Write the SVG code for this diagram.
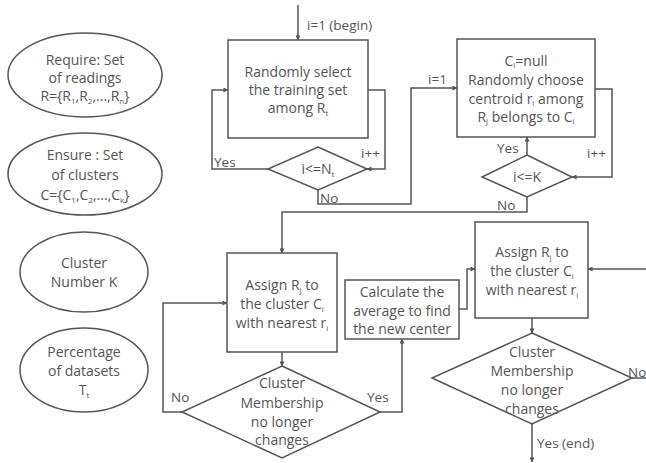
<svg xmlns="http://www.w3.org/2000/svg" width="646" height="463" viewBox="0 0 646 463">
<style>
.s{fill:none;stroke:#555;stroke-width:1.5}
.n{fill:#fff;stroke:#555;stroke-width:1.5}
.c{fill:none;stroke:#555;stroke-width:1.5}
text{font-family:"Open Sans","Noto Sans","DejaVu Sans",sans-serif;fill:#555}
.t{font-size:14px;text-anchor:middle}
.l{font-size:13.5px}
.sb{font-size:8px}
</style>
<defs>
<marker id="a" viewBox="0 0 6 6" refX="5.5" refY="3" markerWidth="5" markerHeight="5" orient="auto" markerUnits="userSpaceOnUse"><path d="M0,0 L6,3 L0,6 z" fill="#555"/></marker>
</defs>
<rect width="646" height="463" fill="#fff"/>

<g id="connectors">
<path class="c" d="M298,5 V40" marker-end="url(#a)"/>
<path class="c" d="M368,90 H385 V169 H367" marker-end="url(#a)"/>
<path class="c" d="M268,169 H212 V90 H228" marker-end="url(#a)"/>
<path class="c" d="M318,190 V204 H411 V88 H457" marker-end="url(#a)"/>
<path class="c" d="M595,89 H612 V177 H572" marker-end="url(#a)"/>
<path class="c" d="M527,155 V137" marker-end="url(#a)"/>
<path class="c" d="M527,197 V212 H282 V253" marker-end="url(#a)"/>
<path class="c" d="M282,352 V366" marker-end="url(#a)"/>
<path class="c" d="M182,412 H163 V303 H227" marker-end="url(#a)"/>
<path class="c" d="M380,412 H402 V339" marker-end="url(#a)"/>
<path class="c" d="M459,309 H467 V269 H475" marker-end="url(#a)"/>
<path class="c" d="M532,318 V333" marker-end="url(#a)"/>
<path class="c" d="M632,378 H652 V269 H588" marker-end="url(#a)"/>
<path class="c" d="M532,424 V462" marker-end="url(#a)"/>
<text class="l" x="307" y="30">i=1 (begin)</text>
<text class="l" x="214" y="167">Yes</text>
<text class="l" x="361" y="158">i++</text>
<text class="l" x="320" y="203">No</text>
<text class="l" x="428" y="84">i=1</text>
<text class="l" x="497" y="153">Yes</text>
<text class="l" x="587" y="158">i++</text>
<text class="l" x="497" y="210">No</text>
<text class="l" x="171" y="402">No</text>
<text class="l" x="367" y="402">Yes</text>
<text class="l" x="628" y="377">No</text>
<text class="l" x="537" y="448">Yes (end)</text>
</g>

<g id="require">
<ellipse class="n" cx="85" cy="75" rx="77" ry="42"/>
<text class="t" x="85" y="65">Require: Set</text>
<text class="t" x="85" y="83">of readings</text>
<text class="t" x="85" y="101">R={R<tspan class="sb" dy="3">1</tspan><tspan dy="-3">,R</tspan><tspan class="sb" dy="3">2</tspan><tspan dy="-3">,...,R</tspan><tspan class="sb" dy="3">n</tspan><tspan dy="-3">}</tspan></text>
</g>
<g id="ensure">
<ellipse class="n" cx="85" cy="174" rx="77" ry="41"/>
<text class="t" x="85" y="160">Ensure : Set</text>
<text class="t" x="85" y="180">of clusters</text>
<text class="t" x="85" y="200">C={C<tspan class="sb" dy="3">1</tspan><tspan dy="-3">,C</tspan><tspan class="sb" dy="3">2</tspan><tspan dy="-3">,...,C</tspan><tspan class="sb" dy="3">k</tspan><tspan dy="-3">}</tspan></text>
</g>
<g id="clusterk">
<ellipse class="n" cx="84" cy="272" rx="64" ry="40"/>
<text class="t" x="84" y="268">Cluster</text>
<text class="t" x="84" y="287">Number K</text>
</g>
<g id="percentage">
<ellipse class="n" cx="84" cy="370" rx="64" ry="42"/>
<text class="t" x="84" y="357">Percentage</text>
<text class="t" x="84" y="376">of datasets</text>
<text class="t" x="84" y="395">T<tspan class="sb" dy="3">t</tspan></text>
</g>

<g id="select">
<rect class="n" x="228" y="40" width="140" height="98"/>
<text class="t" x="298" y="77">Randomly select</text>
<text class="t" x="298" y="95">the training set</text>
<text class="t" x="298" y="113">among R<tspan class="sb" dy="3">t</tspan></text>
</g>
<g id="decision1">
<polygon class="n" points="318,147 367,169 318,190 268,169"/>
<text class="t" x="318" y="174">i&lt;=N<tspan class="sb" dy="3">t</tspan></text>
</g>
<g id="centroid">
<rect class="n" x="457" y="39" width="138" height="98"/>
<text class="t" x="526" y="66">C<tspan class="sb" dy="2">i</tspan><tspan dy="-2">=null</tspan></text>
<text class="t" x="526" y="85">Randomly choose</text>
<text class="t" x="526" y="104">centroid r<tspan class="sb" dy="2">i</tspan><tspan dy="-2"> among</tspan></text>
<text class="t" x="526" y="122">R<tspan class="sb" dy="2">j</tspan><tspan dy="-2"> belongs to C</tspan><tspan class="sb" dy="2">i</tspan></text>
</g>
<g id="decision2">
<polygon class="n" points="527,155 572,177 527,197 482,177"/>
<text class="t" x="527" y="182">i&lt;=K</text>
</g>
<g id="assign1">
<rect class="n" x="227" y="253" width="110" height="99"/>
<text class="t" x="282" y="290">Assign R<tspan class="sb" dy="3">j</tspan><tspan dy="-3"> to</tspan></text>
<text class="t" x="282" y="309">the cluster C<tspan class="sb" dy="3">i</tspan></text>
<text class="t" x="282" y="328">with nearest r<tspan class="sb" dy="3">i</tspan></text>
</g>
<g id="decision3">
<polygon class="n" points="282,366 380,412 282,458 182,412"/>
<text class="t" x="282" y="388">Cluster</text>
<text class="t" x="282" y="408">Membership</text>
<text class="t" x="282" y="427">no longer</text>
<text class="t" x="282" y="445">changes</text>
</g>
<g id="calculate">
<rect class="n" x="345" y="280" width="114" height="59"/>
<text class="t" x="402" y="297">Calculate the</text>
<text class="t" x="402" y="316">average to find</text>
<text class="t" x="402" y="334">the new center</text>
</g>
<g id="assign2">
<rect class="n" x="475" y="222" width="113" height="96"/>
<text class="t" x="532" y="257">Assign R<tspan class="sb" dy="3">j</tspan><tspan dy="-3"> to</tspan></text>
<text class="t" x="532" y="276">the cluster C<tspan class="sb" dy="3">i</tspan></text>
<text class="t" x="532" y="295">with nearest r<tspan class="sb" dy="3">i</tspan></text>
</g>
<g id="decision4">
<polygon class="n" points="532,333 632,378 532,424 432,378"/>
<text class="t" x="532" y="357">Cluster</text>
<text class="t" x="532" y="376">Membership</text>
<text class="t" x="532" y="395">no longer</text>
<text class="t" x="532" y="414">changes</text>
</g>
</svg>
